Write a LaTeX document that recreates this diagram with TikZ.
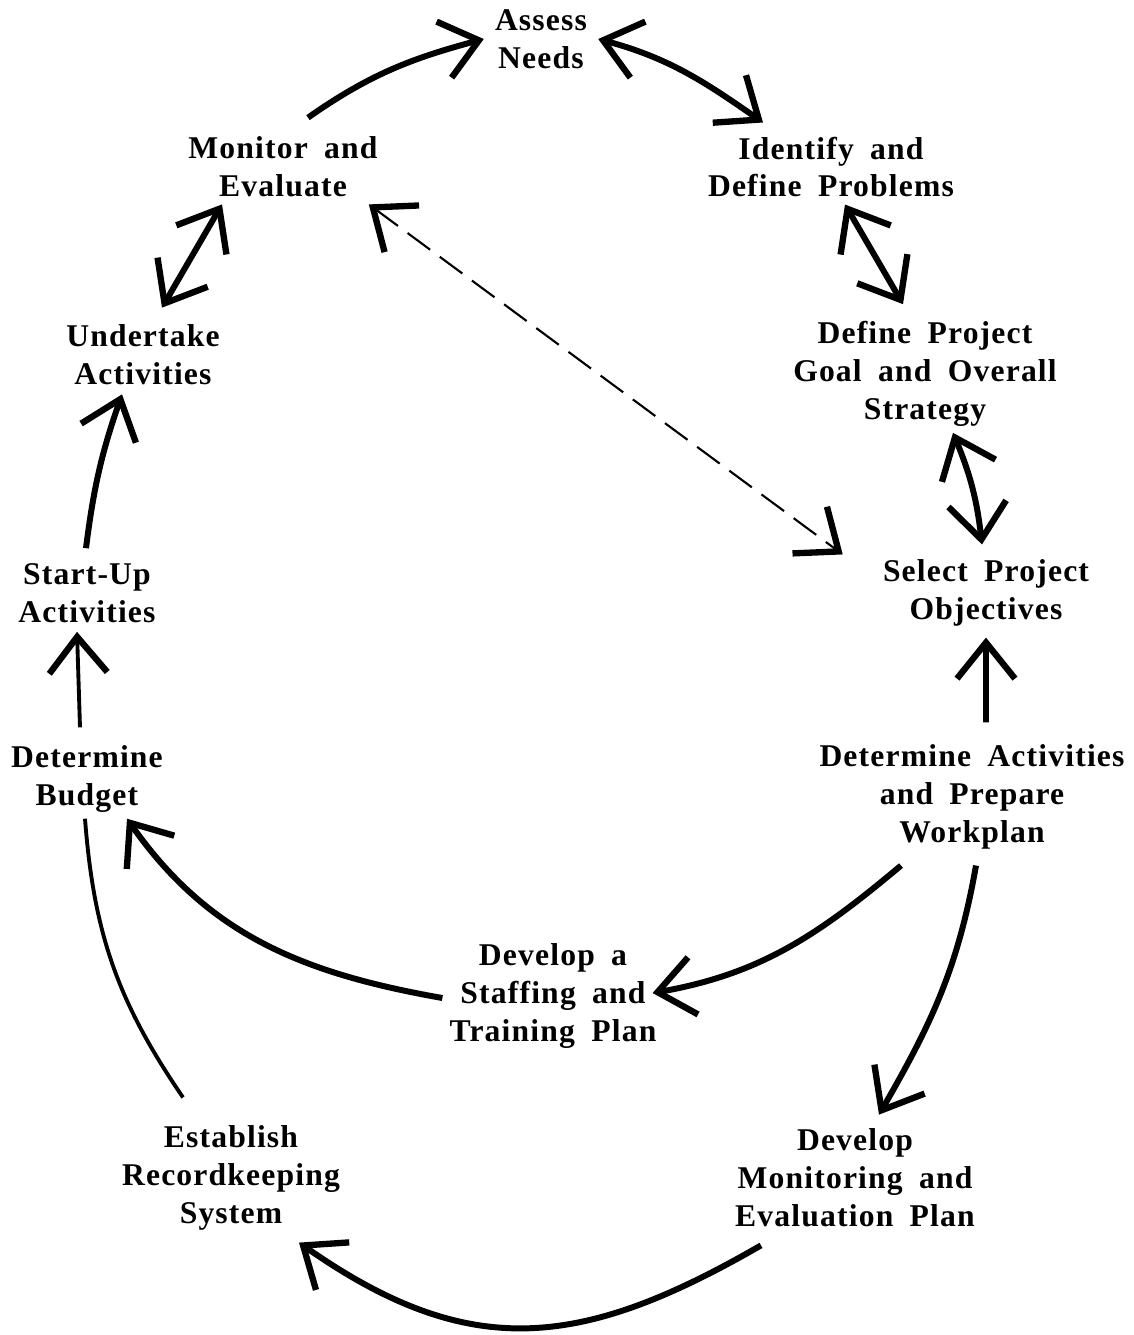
\documentclass[tikz,border=0pt]{standalone}
\usepackage{fontspec}
\setmainfont{Liberation Serif}[LetterSpace=3.7, WordSpace=1.8]
\usetikzlibrary{arrows.meta}

\begin{document}
\begin{tikzpicture}[
    >={Straight Barb[length=3.6mm, width=5.8mm, line width=1.8pt]},
    etape/.style={font=\bfseries\fontsize{9}{10.8}\selectfont, align=center, inner sep=3pt},
    fleche/.style={line width=1.7pt},
    trait/.style={line width=1.1pt},
    tirets/.style={line width=0.6pt, dash pattern=on 2.8mm off 1.2mm}]

    \useasboundingbox (0,0) rectangle (11.33,-13.35);

    % ==============================================
    % Etapes du cycle
    % ==============================================
    \node[etape] (assess)   at (5.41,-0.39)  {Assess\\Needs};
    \node[etape] (ident)    at (8.31,-1.67)  {Identify and\\Define Problems};
    \node[etape] (mon)      at (2.83,-1.67)  {Monitor and\\Evaluate};
    \node[etape] (under)    at (1.43,-3.55)  {Undertake\\Activities};
    \node[etape] (goal)     at (9.25,-3.74)  {Define Project\\Goal and Overall\\Strategy};
    \node[etape] (startup)  at (0.87,-5.93)  {Start-Up\\Activities};
    \node[etape] (select)   at (9.86,-5.93)  {Select Project\\Objectives};
    \node[etape] (budget)   at (0.87,-7.79)  {Determine\\Budget};
    \node[etape] (workplan) at (9.72,-7.97)  {Determine Activities\\and Prepare\\Workplan};
    \node[etape] (staff)    at (5.53,-9.96)  {Develop a\\Staffing and\\Training Plan};
    \node[etape] (record)   at (2.31,-11.78) {Establish\\Recordkeeping\\System};
    \node[etape] (mep)      at (8.55,-11.78) {Develop\\Monitoring and\\Evaluation Plan};

    % ==============================================
    % Haut du cycle
    % ==============================================
    \draw[fleche,->] ([shift={(0.25,0.08)}]mon.north) to[out=35,in=195] (assess.west);
    \draw[fleche,<->] (assess.east) to[out=-15,in=145] ([shift={(-0.68,0.03)}]ident.north);
    \draw[fleche,<->] ([shift={(0.14,0.04)}]ident.south) -- ([shift={(-0.22,0.06)}]goal.north);
    \draw[fleche,<->] ([shift={(0.28,0.05)}]goal.south) to[bend left=8] ([shift={(-0.04,0.04)}]select.north);
    \draw[fleche,<->] ([shift={(-0.61,0.04)}]mon.south) -- ([shift={(0.19,0.06)}]under.north);

    % Diagonale en tirets
    \draw[tirets,<->] ([shift={(-0.20,0.04)}]mon.south east) -- ([shift={(-0.29,-0.06)}]select.north west);

    % ==============================================
    % Cote gauche
    % ==============================================
    \draw[fleche,->] ([shift={(-0.01,0.04)}]startup.north) to[bend left=6] ([shift={(-0.21,0.02)}]under.south);
    \draw[trait,->] ([shift={(-0.07,0.07)}]budget.north) -- ([shift={(-0.10,0.02)}]startup.south);
    \draw[trait] ([shift={(-0.02,0.05)}]budget.south) to[bend right=15] ([shift={(-0.48,0.17)}]record.north);

    % ==============================================
    % Bas du cycle
    % ==============================================
    \draw[fleche,->] ([shift={(0.14,0.11)}]workplan.north) -- (select.south);
    \draw[fleche,->] ([shift={(-0.71,-0.05)}]workplan.south) to[out=220,in=10] ([shift={(-0.15,0.03)}]staff.east);
    \draw[fleche,->] ([shift={(0.04,-0.05)}]workplan.south) to[out=260,in=60] ([shift={(0.24,0.03)}]mep.north);
    \draw[fleche,->] ([shift={(0.04,-0.02)}]staff.west) to[out=170,in=-55] ([shift={(0.40,0.05)}]budget.south);
    \draw[fleche,->] ([shift={(-0.94,-0.07)}]mep.south) to[out=210,in=-35,looseness=1.15] ([shift={(0.68,-0.01)}]record.south);

\end{tikzpicture}
\end{document}
